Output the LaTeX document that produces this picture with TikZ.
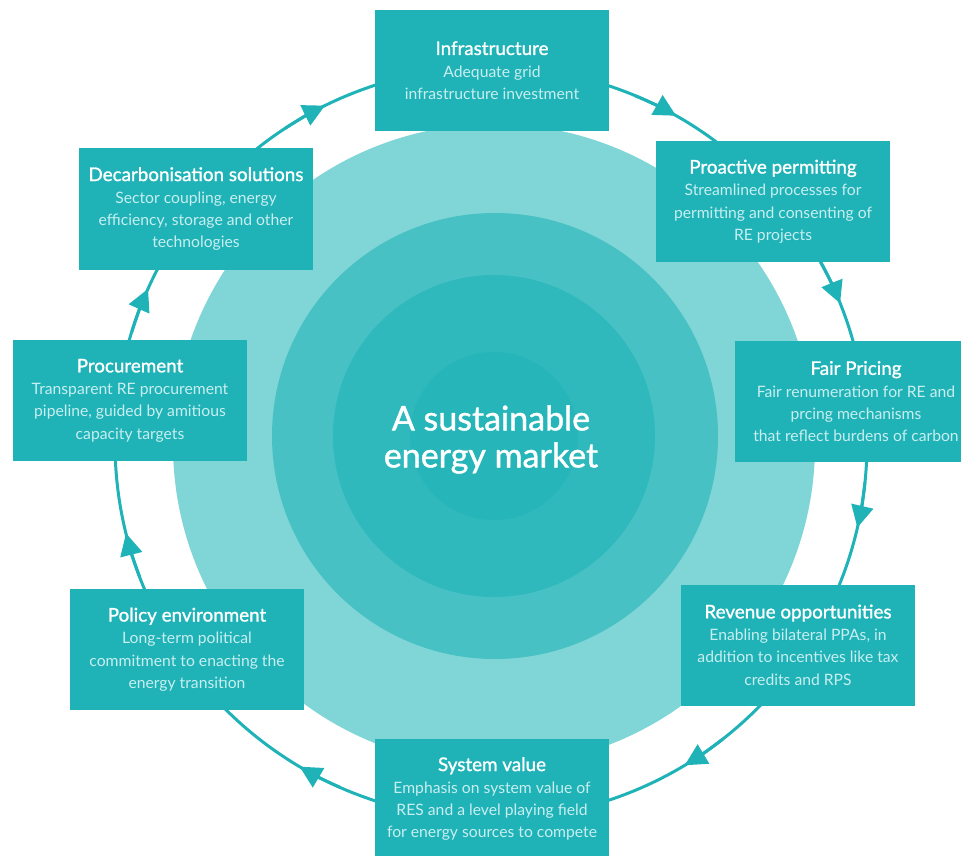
\documentclass[tikz,border=0pt]{standalone}
\usepackage{fontspec}
\setmainfont{Lato}
\newfontfamily\mediumfont{Lato}[FakeBold=1.2]
\usepackage{tikz}
\usetikzlibrary{arrows.meta}

\definecolor{boxteal}{HTML}{1FB3B8}
\definecolor{disclight}{HTML}{80D5D6}
\definecolor{discmid}{HTML}{47C1C4}
\definecolor{discdeep}{HTML}{30B9BD}
\definecolor{disccore}{HTML}{26B5B9}
\definecolor{desctext}{HTML}{C8EEEF}

\newcommand{\stagetitle}[1]{{\color{white}\fontsize{18.8}{23}\mediumfont #1}}

\begin{document}
\begin{tikzpicture}[x=1pt, y=-1pt,
        stage/.style={fill=boxteal, text=desctext, minimum width=234pt, minimum height=121pt,
            inner sep=0pt, align=center, font=\fontsize{15.7}{22.3}\selectfont},
        ring/.style={draw=boxteal, line width=3pt},
        flow/.style={ring, -{Triangle[length=22pt, width=22pt]}}]
        \useasboundingbox (0, 0) rectangle (961, 856);
        \clip (0, 0) rectangle (961, 856);

        \fill [disclight] (494, 445) circle (321); % outer disc
        \fill [discmid] (495, 436) circle (223);
        \fill [discdeep] (494, 436) circle (161);
        \fill [disccore] (494, 436) circle (84); % core disc

        \draw [ring] (491, 443) circle (376); % cycle
        \foreach \a in {241.8, 297.5, 336.2, 11.0, 57.0, 118.6, 164.1, 202.2}
            \draw [flow] (491, 443) ++(\a-5:376) arc (\a-5:\a+2:376);

        \node (market) [text=white, align=center, font=\fontsize{34}{37}\mediumfont] at (491, 439.5)
            {A sustainable\\energy market};

        \node (infra) [stage] at (492, 70.5)
            {\stagetitle{Infrastructure}\\Adequate grid\\infrastructure investment};
        \node (permit) [stage] at (773, 201.5)
            {\stagetitle{Proactive permitting}\\Streamlined processes for\\permitting and consenting of\\RE projects};
        \node (pricing) [stage, minimum width=242pt] at (856, 401.5)
            {\stagetitle{Fair Pricing}\\Fair renumeration for RE and\\prcing mechanisms\\that reflect burdens of carbon};
        \node (revenue) [stage] at (798, 645)
            {\stagetitle{Revenue opportunities}\\Enabling bilateral PPAs, in\\addition to incentives like tax\\credits and RPS};
        \node (sysval) [stage] at (492, 799)
            {\stagetitle{System value}\\Emphasis on system value of\\RES and a level playing field\\for energy sources to compete};
        \node (policy) [stage] at (187, 649.5)
            {\stagetitle{Policy environment}\\Long-term political\\commitment to enacting the\\energy transition};
        \node (procure) [stage] at (130, 400.5)
            {\stagetitle{Procurement}\\Transparent RE procurement\\pipeline, guided by amitious\\capacity targets};
        \node (decarb) [stage] at (196, 209)
            {\stagetitle{Decarbonisation solutions}\\Sector coupling, energy\\efficiency, storage and other\\technologies};
\end{tikzpicture}
\end{document}
